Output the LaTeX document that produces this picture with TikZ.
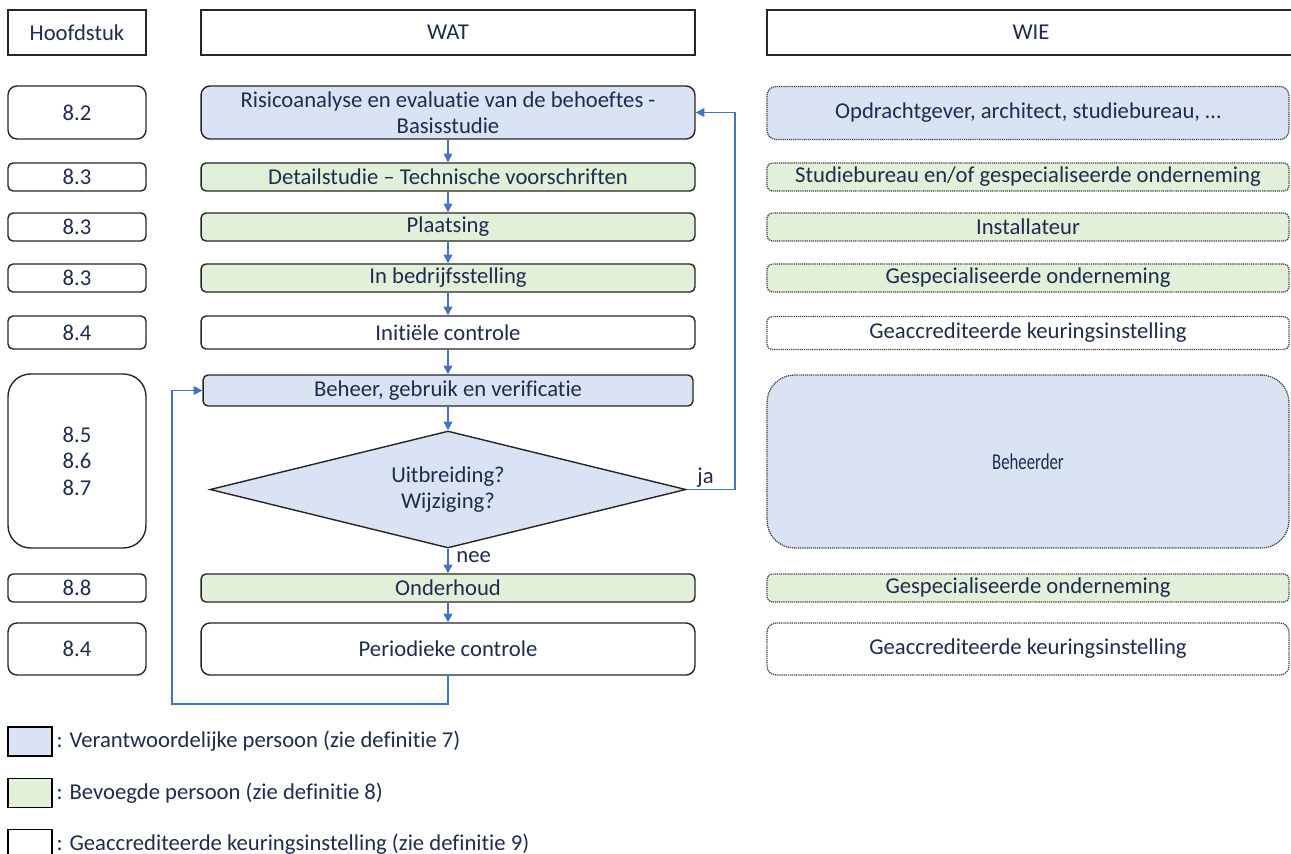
\documentclass[tikz,border=0pt]{standalone}
\usepackage{fontspec}
\setmainfont{Carlito}[Ligatures=NoCommon]
\usetikzlibrary{shapes.geometric,arrows.meta}
\definecolor{tekstblauw}{HTML}{1F2C4F}
\definecolor{verantw}{HTML}{DAE3F3}
\definecolor{bevoegd}{HTML}{E2F0D9}
\definecolor{pijlblauw}{HTML}{4472C4}

\begin{document}
\begin{tikzpicture}[x=0.02cm,y=-0.02cm,
    every node/.style={text=tekstblauw,font=\fontsize{12.9}{15}\selectfont},
    kop/.style={draw=black!85,line width=0.8pt,inner sep=0pt,minimum height=0.9cm},
    vak/.style={draw=black!85,line width=0.8pt,inner sep=0pt,rounded corners=0.1cm,align=center},
    wie/.style={draw=black!75,line width=0.7pt,dash pattern=on 0.7pt off 0.5pt,inner sep=0pt,rounded corners=0.1cm,align=center},
    kol1/.style={minimum width=2.76cm},
    kol2/.style={minimum width=9.88cm},
    kol3/.style={minimum width=10.44cm},
    keuze/.style={diamond,aspect=4,draw=black!85,line width=0.8pt,fill=verantw,inner sep=0pt,align=center,minimum width=9.52cm,minimum height=2.34cm},
    pijl/.style={draw=pijlblauw,line width=0.8pt,-{Triangle[length=5pt,width=5pt]}},
    legvak/.style={draw=black,line width=1pt,inner sep=0pt,minimum width=0.88cm,minimum height=0.58cm}]
\useasboundingbox (0,0) rectangle (1291,854);
% kopjes
\node[kop,kol1] (hfd) at (77,32.5) {Hoofdstuk};
\node[kop,kol2] (wat) at (448,32.5) {WAT};
\node[kop,minimum width=10.56cm] (wie) at (1031,32.5) {WIE};
% 8.2
\node[vak,kol1,minimum height=1.06cm,rounded corners=0.18cm] (h1) at (77,112.5) {8.2};
\node[vak,kol2,minimum height=1.06cm,rounded corners=0.18cm,fill=verantw] (w1) at (448,112.5) {Risicoanalyse en evaluatie van de behoeftes -\\Basisstudie};
\node[wie,kol3,minimum height=1.06cm,rounded corners=0.18cm,fill=verantw] (p1) at (1028,113) {Opdrachtgever, architect, studiebureau, …};
% 8.3
\node[vak,kol1,minimum height=0.56cm] (h2) at (77,177) {8.3};
\node[vak,kol2,minimum height=0.56cm,fill=bevoegd] (w2) at (448,177) {Detailstudie – Technische voorschriften};
\node[wie,kol3,minimum height=0.56cm,fill=bevoegd] (p2) at (1028,177) {Studiebureau en/of gespecialiseerde onderneming};
\node[vak,kol1,minimum height=0.56cm] (h3) at (77,227) {8.3};
\node[vak,kol2,minimum height=0.56cm,fill=bevoegd] (w3) at (448,227) {Plaatsing};
\node[wie,kol3,minimum height=0.56cm,fill=bevoegd] (p3) at (1028,227) {Installateur};
\node[vak,kol1,minimum height=0.56cm] (h4) at (77,278) {8.3};
\node[vak,kol2,minimum height=0.56cm,fill=bevoegd] (w4) at (448,278) {In bedrijfsstelling};
\node[wie,kol3,minimum height=0.56cm,fill=bevoegd] (p4) at (1028,278) {Gespecialiseerde onderneming};
% 8.4
\node[vak,kol1,minimum height=0.66cm] (h5) at (77,332.5) {8.4};
\node[vak,kol2,minimum height=0.66cm] (w5) at (448,332.5) {Initiële controle};
\node[wie,kol3,minimum height=0.66cm] (p5) at (1028,333) {Geaccrediteerde keuringsinstelling};
% 8.5 - 8.7
\node[vak,kol1,minimum height=3.48cm,rounded corners=0.45cm] (h6) at (77,461) {8.5\\8.6\\8.7};
\node[vak,minimum width=9.8cm,minimum height=0.62cm,fill=verantw] (w6) at (448,390.5) {Beheer, gebruik en verificatie};
\node[keuze] (vraag) at (448,489.5) {Uitbreiding?\\Wijziging?};
\node[wie,kol3,minimum height=3.46cm,rounded corners=0.55cm,fill=verantw] (p6) at (1028,461.5) {\scalebox{0.74}[1]{Beheerder}};
% 8.8
\node[vak,kol1,minimum height=0.56cm] (h7) at (77,588) {8.8};
\node[vak,kol2,minimum height=0.56cm,fill=bevoegd] (w7) at (448,588) {Onderhoud};
\node[wie,kol3,minimum height=0.56cm,fill=bevoegd] (p7) at (1028,588) {Gespecialiseerde onderneming};
% 8.4
\node[vak,kol1,minimum height=1.04cm,rounded corners=0.18cm] (h8) at (77,649) {8.4};
\node[vak,kol2,minimum height=1.04cm,rounded corners=0.18cm] (w8) at (448,649) {Periodieke controle};
\node[wie,kol3,minimum height=1.04cm,rounded corners=0.18cm] (p8) at (1028,649) {Geaccrediteerde keuringsinstelling};
% pijlen
\draw[pijl] (w1.south) -- (w2.north);
\draw[pijl] (w2.south) -- (w3.north);
\draw[pijl] (w3.south) -- (w4.north);
\draw[pijl] (w4.south) -- (w5.north);
\draw[pijl] (w5.south) -- (w6.north);
\draw[pijl] (w6.south) -- (vraag.north);
\draw[pijl] (vraag.south) -- (w7.north);
\draw[pijl] (w7.south) -- (w8.north);
\coordinate (jahoek) at (735,489.5);
\draw[pijl] (vraag.east) -- (jahoek) |- (w1.east);
\coordinate (lushoek) at (172,704);
\draw[pijl] (w8.south) |- (lushoek) |- (w6.west);
\node[anchor=west,inner sep=0pt] (ja) at (697,478) {ja};
\node[anchor=west,inner sep=0pt] (nee) at (456,557) {nee};
% legende
\node[legvak,fill=verantw] (leg1) at (30,741.5) {};
\node[anchor=west,inner xsep=2pt] (legt1) at (leg1.east) {: Verantwoordelijke persoon (zie definitie 7)};
\node[legvak,fill=bevoegd] (leg2) at (30,793) {};
\node[anchor=west,inner xsep=2pt] (legt2) at (leg2.east) {: Bevoegde persoon (zie definitie 8)};
\node[legvak,fill=white] (leg3) at (30,844) {};
\node[anchor=west,inner xsep=2pt] (legt3) at (leg3.east) {: Geaccrediteerde keuringsinstelling (zie definitie 9)};
\end{tikzpicture}
\end{document}
